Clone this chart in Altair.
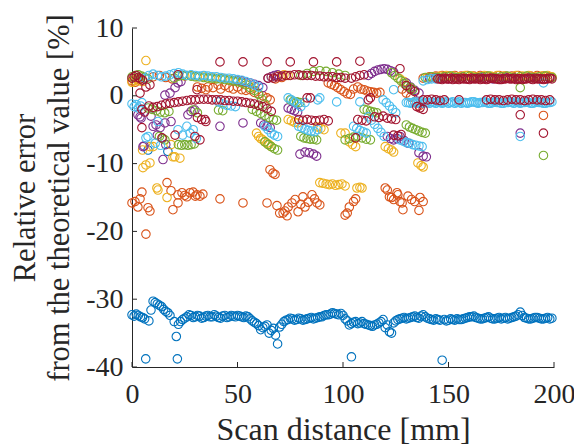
import altair as alt
import pandas as pd

x_ticks = [0, 50, 100, 150, 200]
y_ticks = [-40, -30, -20, -10, 0, 10]

series_names = ["S1", "S2", "S3", "S4", "S5", "S6", "S7"]
series_colors = ["#0072BD", "#D95319", "#EDB120", "#7E2F8E", "#77AC30", "#4DBEEE", "#A2142F"]

blue_pts = [
    (0, -32.3), (1, -32.5), (2, -32.2), (3, -32.4), (4, -32.6), (5, -32.7), (6, -32.9), (8, -33.2), (9, -31.6),
    (10, -30.3), (11, -30.5), (12, -30.7), (13, -30.9), (14, -31.1), (15, -31.5), (16, -31.8), (17, -32.0),
    (18, -32.4), (20, -33.3), (21, -35.5), (22, -33.7), (23, -33.3), (24, -33.0), (25, -32.8), (26, -32.6),
    (27, -32.3), (28, -32.4), (29, -32.7), (30, -32.6), (31, -32.4), (32, -32.5), (33, -32.8), (34, -32.7),
    (35, -32.5), (36, -32.4), (37, -32.6), (38, -32.6), (39, -32.3), (40, -32.5), (41, -32.7), (42, -32.8),
    (43, -32.5), (44, -32.4), (45, -32.7), (46, -32.6), (47, -32.4), (48, -32.5), (49, -32.6), (50, -32.4),
    (51, -32.5), (52, -32.6), (53, -32.7), (54, -32.5), (55, -32.6), (56, -32.9), (57, -33.2), (58, -33.4),
    (59, -33.6), (60, -33.9), (61, -34.5), (62, -34.2), (63, -34.0), (64, -33.8), (65, -35.0), (66, -34.6),
    (67, -34.3), (68, -35.3), (69, -36.6), (70, -34.1), (71, -33.7), (72, -33.3), (73, -33.1), (74, -33.0),
    (75, -32.8), (76, -32.9), (77, -33.1), (78, -33.0), (79, -32.8), (80, -32.9), (81, -33.1), (82, -33.0),
    (83, -32.9), (84, -32.8), (85, -32.7), (86, -32.9), (87, -32.8), (88, -32.7), (89, -32.6), (90, -32.6),
    (91, -32.4), (92, -32.3), (93, -32.3), (94, -32.2), (95, -32.0), (96, -32.1), (97, -32.2), (98, -32.3),
    (99, -32.1), (100, -32.4), (101, -32.9), (102, -33.2), (103, -33.8), (104, -33.6), (105, -33.4),
    (106, -33.3), (107, -33.6), (108, -33.5), (109, -33.3), (110, -33.6), (111, -33.7), (112, -33.8),
    (113, -33.9), (114, -34.0), (115, -33.8), (116, -33.7), (117, -33.5), (118, -33.3), (119, -33.0),
    (120, -34.2), (121, -33.8), (122, -34.8), (123, -35.0), (124, -33.5), (125, -33.2), (126, -33.0),
    (127, -32.9), (128, -32.8), (129, -32.7), (130, -32.9), (131, -32.8), (132, -32.7), (133, -32.6),
    (134, -32.5), (135, -32.7), (136, -32.8), (137, -32.5), (138, -32.3), (139, -32.6), (140, -32.8),
    (141, -32.9), (142, -33.0), (143, -33.1), (144, -32.9), (145, -33.0), (146, -33.1), (148, -33.0),
    (149, -33.2), (150, -33.1), (151, -32.9), (152, -33.0), (153, -33.1), (154, -32.9), (155, -33.0),
    (156, -33.0), (157, -32.9), (158, -32.8), (159, -32.7), (160, -32.6), (161, -32.6), (162, -32.5),
    (163, -32.7), (164, -32.8), (165, -32.9), (166, -32.9), (167, -32.8), (168, -32.7), (169, -32.6),
    (170, -32.8), (171, -32.9), (172, -32.9), (173, -32.8), (174, -32.7), (175, -32.9), (176, -32.8),
    (177, -32.7), (178, -32.9), (179, -32.8), (180, -32.7), (181, -32.6), (182, -32.5), (183, -32.3),
    (184, -31.9), (185, -32.4), (186, -32.7), (187, -32.8), (188, -32.9), (189, -32.9), (190, -32.8),
    (191, -32.7), (192, -32.7), (193, -32.8), (194, -32.9), (195, -32.9), (196, -32.8), (197, -32.7),
    (198, -32.9), (199, -32.8),
    (6.5, -38.8), (21.5, -38.8), (104, -38.5), (147, -39.0), (7.6, -8.0), (17, -8.2),
]

orange_pts = [
    (0, -15.8), (1.4, -15.6), (2.8, -16.4), (3.8, -15.2), (4.7, -14.2), (6.6, -20.4), (7.6, -16.5), (8.5, -17.0),
    (16.6, -12.8), (18.5, -14.0), (19.4, -16.8), (21.8, -15.8), (21.8, -14.6), (23.7, -14.3), (25, -14.7),
    (26, -14.9), (27.5, -14.3), (29, -14.2), (30, -14.8), (30.8, -14.6), (32.2, -14.8), (33.6, -14.5),
    (41.7, -15.2), (52.6, -15.8), (64, -15.8), (65.4, -10.9), (66.8, -11.4), (67.8, -11.6), (68.7, -16.2),
    (70, -17.3), (71.6, -17.3), (72.5, -17.0), (73.5, -17.7), (74, -16.4), (75.8, -15.8), (77.3, -15.3),
    (78.7, -17.1), (80, -16.0), (81, -14.9), (82, -16.4), (83.5, -15.7), (85.3, -14.6), (86.5, -15.2),
    (87.7, -15.8), (89, -16.1), (101, -17.6), (102, -17.3), (103, -16.4), (105, -15.6), (106, -15.2),
    (120, -13.6), (121, -13.9), (122, -14.9), (123, -15.0), (124, -15.3), (125.6, -14.3), (126, -14.6),
    (127, -15.6), (128, -15.8), (128.4, -16.8), (130.8, -14.8), (132.5, -15.3), (134, -15.6), (136.5, -15.0),
    (138, -15.6), (136, -16.9),
    (0, 2.2), (1.5, 2.0), (3, 2.4), (10, 2.8), (13, 3.0), (16, 2.7), (19, 2.5),
    (31, 1.3), (33, 1.1), (35, 0.9), (36, 1.3), (38.4, 1.2), (40.8, 1.6), (42, 1.0), (44, 1.5), (46, 1.2),
    (48, 1.0), (50, 1.3), (52, 0.9), (54, 0.8), (56, 0.9), (58, 0.5), (60, 0.3), (62, 0.0), (64, -0.3),
    (65.5, -0.6), (68, 2.5), (71, 2.7),
    (93, 1.9), (94.5, 1.7), (96, 1.5), (97.5, 1.2), (99, 0.9), (100.5, 0.6), (102, 0.3), (103.5, 0.2),
    (105, 1.0), (107, 1.3), (108.5, 1.0), (110, 0.9), (111.5, 0.7), (113, 0.6), (114.5, 0.5), (116, 0.4),
    (117.5, 0.5), (128, 1.0), (130, 0.4), (132, -0.2), (134, -0.9), (136, -1.5),
    (138, 2.6), (141, 2.8), (144, 2.9), (147, 3.0), (150, 2.9), (153, 3.0), (156, 2.9), (159, 3.0),
    (162, 2.9), (165, 3.0), (168, 2.9), (171, 2.8), (174, 3.0), (177, 2.9), (180, 2.9), (183, 3.0),
    (186, 2.8), (189, 2.9), (192, 3.0), (195, 2.9), (198, 2.8), (195, -2.9),
]

yellow_pts = [
    (0, 2.0), (1, 2.3), (2, 2.6), (3, 2.2), (4, 2.5), (5, 2.1), (6.6, 5.2),
    (5, -8.0), (5.2, -10.6), (6.6, -10.2), (8.5, -9.9), (8.5, -7.5), (10, -7.5), (11.8, -13.6), (12.3, -13.9),
    (16.6, -15.0), (18.5, -7.2), (19.4, -9.0), (20.3, -9.0), (22.7, -9.2),
    (25, 2.9), (28, 3.0), (31, 2.8), (34, 2.9), (37, 2.7), (40, 2.6), (43, 2.6), (46, 2.4), (49, 2.3),
    (52, 2.0), (55, 1.7), (58, 1.3),
    (59, -5.5), (60, -6.0), (61, -6.3), (62, -6.5), (63, -6.8), (64, -7.0), (65, -7.2), (66, -7.5),
    (66, 2.8), (69, 3.0), (72, 3.1), (74, 3.0),
    (74, -3.5), (75.5, -3.7), (77, -3.9), (78.5, -4.0), (88, -4.6), (89.5, -4.8), (91, -5.0), (99, -5.5),
    (101, -5.5),
    (89, -12.8), (90.5, -12.9), (92, -13.0), (93.5, -13.1), (95, -13.0), (96.5, -13.2), (98, -13.1),
    (99.5, -13.0), (101, -13.3), (106.6, -13.6), (108, -13.5), (109, -13.6),
    (103, -6.8), (104.5, -7.2), (106, -7.5), (120, -7.5), (121.5, -7.8), (123, -8.0), (124, -8.3),
    (135.5, -9.9), (137, -10.3), (138, -10.5), (127, 2.5), (129, 2.1),
    (140, 2.7), (143, 2.8), (146, 2.9), (149, 3.0), (152, 2.9), (155, 2.8), (158, 3.0), (161, 2.9),
    (164, 2.8), (167, 3.0), (170, 2.9), (173, 3.0), (176, 2.9), (179, 2.8), (182, 3.0), (185, 2.9),
    (188, 3.0), (191, 2.8), (194, 2.9), (197, 3.0), (199, 2.8),
]

purple_pts = [
    (2.8, -2.8), (3.8, -3.1), (4.3, -3.3), (5.2, -7.5), (5.7, -7.4), (9, -3.0), (10, -4.5), (11.4, -4.3),
    (12, -5.8), (13.3, -4.7), (14.7, -9.4), (15.6, -4.0), (16, -7.2), (18.5, -3.8), (15.6, 0.1), (18, 0.4),
    (20.4, 1.2), (21.8, 1.9), (23.2, 2.1), (26.5, -2.8), (28, -2.3), (29.8, -2.1),
    (50, 2.3), (52, 2.2), (54, 2.0), (56, 1.9), (58, 1.7), (60, 1.5), (62, 1.2),
    (41.7, -4.5), (52.6, -4.0), (61, -4.0), (62.5, -4.3), (64, -4.5), (65.5, -4.7),
    (64.5, 2.6), (66, 2.8), (67.5, 3.0), (69, 3.1),
    (74, -1.8), (75.5, -2.0), (77, -2.2), (78.5, -2.4),
    (79.6, -8.6), (82, -8.3), (84, -8.4), (86, -8.6), (87.5, -8.9),
    (112, 3.0), (113.5, 3.3), (115, 3.6), (116.5, 3.8), (118, 3.9), (119.5, 4.0), (121, 3.9), (122.5, 3.7),
    (124, 3.5),
    (121, -6.0), (122.5, -6.3), (124, -6.5), (125.5, -6.3), (127, -6.0), (129, -6.6), (131, -7.0),
    (136, -8.4), (138, -8.9), (139.5, -9.0),
    (130, 1.9), (132, 1.3), (134, 0.8), (136, 0.4),
    (141, 2.6), (144, 2.7), (147, 2.6), (150, 2.5), (153, 2.7), (156, 2.6), (159, 2.5), (162, 2.6),
    (165, 2.7), (168, 2.6), (171, 2.5), (174, 2.6), (177, 2.7), (180, 2.6), (183, 2.5), (186, 2.6),
    (189, 2.7), (192, 2.6), (195, 2.5), (198, 2.6), (184, -5.5),
]

green_pts = [
    (0, 2.8), (1.5, 3.0), (3, 3.1), (4.5, 2.9), (6, 2.7), (7.5, 2.5),
    (7.6, -1.8), (9.5, -2.0), (11.5, -2.2), (13.5, -2.4), (15.5, -2.5), (17.5, -2.3),
    (13, -6.0), (14.5, -6.3), (15.6, -6.5), (22, -7.2), (23.5, -7.3), (25, -7.2), (26.5, -7.3), (28, -7.2),
    (29.5, -7.1), (29, -2.1), (31, -2.5), (41, -2.1), (43, -2.2),
    (20, 2.6), (22, 2.9), (24, 3.0), (26, 3.0), (28, 2.9), (30, 2.8), (32, 2.8), (34, 2.7), (36, 2.6),
    (38, 2.6), (40, 2.5), (42, 2.5), (44, 2.4), (46, 2.3), (48, 2.2), (50, 2.1), (52, 1.9), (54, 1.6),
    (56, 1.2), (58, 0.8), (60, 0.2), (61.5, -0.5), (63, -1.2),
    (57, -2.0), (59, -2.3), (61, -2.6), (63, -2.9), (65, -3.2), (67, -3.5), (68.5, -3.6),
    (63, -6.8), (64.5, -7.2), (66, -7.5), (67.5, -7.8), (69, -8.0),
    (75, -0.6), (76.5, -0.8), (78, -0.9), (79.5, -1.0),
    (80, -6.0), (81.5, -6.2), (83, -6.3), (84.5, -6.4), (86, -6.4), (87.5, -6.5),
    (80, 3.0), (83, 3.3), (86, 3.6), (89, 3.7), (92, 3.6), (95, 3.4), (98, 3.2), (101, 3.0),
    (101, -6.5), (103, -6.3), (105, -6.1), (107, -6.0), (109, -6.2), (111, -6.4), (113, -6.5),
    (110, -2.0), (111.5, -2.1), (113, -2.3), (114.5, -2.4), (116, -2.5),
    (123, 3.4), (124.5, 3.0), (126, 2.6), (127.5, 2.2), (129, 1.8), (130.5, 1.4), (132, 1.2), (133, 0.9),
    (130, -4.3), (131.5, -4.6), (133, -4.8), (134.5, -5.0), (136, -5.2), (137.5, -5.4), (139, -5.5),
    (139, 2.7), (142, 2.8), (145, 2.7), (148, 2.8), (151, 2.9), (154, 2.7), (157, 2.8), (160, 2.9),
    (163, 2.7), (166, 2.8), (169, 2.9), (172, 2.7), (175, 2.8), (178, 2.9), (181, 2.7), (184, 2.8),
    (187, 2.9), (190, 2.7), (193, 2.8), (196, 2.9), (199, 2.7), (184, 1.2), (195, -8.8),
]

lightblue_pts = [
    (0, -1.2), (1, -1.6), (2, -1.3), (3, -1.8), (4, -1.5), (4.7, -1.0),
    (6, 2.6), (8, 3.0), (10, 3.2), (12, 3.0), (14, 2.8), (16, 2.9), (18, 3.1), (20, 3.3), (22, 3.4),
    (24, 3.2), (26, 3.0), (28, 3.1), (30, 3.0), (32, 2.9), (34, 3.0), (36, 2.9), (38, 2.8), (40, 2.8),
    (42, 2.7), (44, 2.6), (46, 2.6), (48, 2.5), (50, 2.4), (52, 2.3), (54, 2.1), (56, 1.9), (58, 1.6),
    (60, 1.3),
    (6.6, -6.2), (7.6, -6.0), (11, -7.0), (13.5, -7.3), (12.3, -3.8), (21.8, -5.0), (24, -5.8), (26, -4.5),
    (27.5, -5.5), (29, -5.0), (30.5, -6.3),
    (41, -0.9), (43, -1.2), (45, -1.4), (47, -1.5), (49, -1.6),
    (63, -4.5), (64.5, -5.0), (66, -5.5), (67.5, -5.8), (69, -6.0),
    (74, -0.3), (75.5, -0.6), (77, -0.9), (78.5, -1.2), (80, -1.6), (82, -1.0),
    (79, -4.5), (80.5, -4.7), (82, -4.9), (83.5, -5.1), (85, -5.2), (86.5, -5.3), (88, -5.0),
    (88, -0.6), (89, -0.3), (97, -0.9), (108, -0.9),
    (105, -4.5), (106.5, -4.8), (108, -5.1), (109.5, -5.3), (111, -5.5),
    (112, -3.1), (113.5, -3.6), (115, -4.2), (116.5, -4.8), (118, -5.4), (119.5, -6.0),
    (119, -0.6), (120.5, -1.0), (122, -1.5), (123.5, -2.0), (125, -2.5), (124, 0.9),
    (127, -6.5), (128.5, -6.7), (130, -6.9), (131.5, -7.0), (133, -7.2), (134.5, -7.3), (136, -7.4),
    (137.5, -7.5),
    (138, 2.2), (140, 2.4), (142, 2.5), (144, 2.5),
    (130, -1.0), (131, -1.0), (132, -1.1), (133, -1.0), (134, -0.9), (135, -1.1), (136, -1.0), (137, -0.9),
    (138, -1.1), (139, -1.0), (140, -1.0), (141, -1.1), (142, -0.9), (143, -1.0), (144, -1.1), (145, -0.9),
    (146, -1.0), (147, -1.1), (148, -1.0), (149, -0.9), (150, -1.1), (151, -1.0), (152, -0.9), (153, -1.1),
    (154, -1.0), (155, -0.9), (156, -1.1), (157, -1.0), (158, -1.0), (159, -1.1), (160, -1.0), (161, -0.9),
    (162, -0.9), (163, -1.0), (164, -1.1), (165, -1.0), (166, -1.0), (167, -0.9), (168, -1.0), (169, -1.1),
    (170, -1.1), (171, -1.0), (172, -0.9), (173, -1.0), (174, -1.0), (175, -1.1), (176, -1.1), (177, -1.0),
    (178, -1.0), (179, -0.9), (180, -1.0), (181, -1.1), (182, -0.9), (183, -1.0), (184, -1.1), (185, -1.0),
    (186, -1.0), (187, -0.9), (188, -1.0), (189, -1.1), (190, -1.1), (191, -1.0), (192, -0.9), (193, -1.0),
    (194, -1.0), (195, -1.1), (196, -1.1), (197, -1.0), (198, -1.0), (199, -0.9),
    (184, -6.0), (195, 1.9),
]

darkred_pts = [
    (0, 2.6), (1, 2.8), (2, 3.0), (3, 2.7), (4, 2.5), (5, 2.3),
    (3.8, 0.4), (4.7, -2.0), (4.7, -4.7), (6, -2.4), (6.6, 1.3), (8.5, 1.6), (21.8, 3.1), (14.2, -6.2),
    (20.4, -5.8), (29.8, -6.0), (32.2, -6.5), (30.8, 0.9), (31, -3.2), (33, -3.5), (34.6, -3.5), (35, -3.8),
    (8, -1.5), (10, -1.7), (12, -1.6), (14, -1.4), (16, -1.2), (18, -1.1), (20, -1.0), (22, -0.9),
    (24, -0.8), (26, -0.7), (28, -0.6), (30, -0.6), (32, -0.5), (34, -0.5), (36, -0.5), (38, -0.6),
    (40, -0.6), (42, -0.6), (44, -0.7), (46, -0.7), (48, -0.8), (50, -0.8), (52, -0.9), (54, -1.0),
    (56, -1.1), (58, -1.2), (60, -1.4), (62, -1.6), (64, -1.9), (66, -2.3),
    (41.7, 5.0), (52.6, 5.0), (64, 5.0), (75, 5.0), (86, 5.0), (97, 5.0), (108, 5.1), (127, 4.0),
    (64.5, 2.6), (67, 2.6), (69, 2.8), (71, 2.9), (73, 3.0), (75, 3.0), (77, 3.1), (79, 3.1), (81, 3.0),
    (83, 3.0), (85, 3.0), (87, 2.9), (89, 2.9), (91, 2.8), (93, 2.8), (95, 2.8), (97, 2.7), (99, 2.7),
    (101, 2.6), (104, 2.6), (106, 2.8), (108, 3.0), (110, 3.1),
    (79, -3.5), (81, -3.6), (83, -3.5), (85, -3.6), (87, -3.7), (89, -3.6), (91, -3.5), (93, -3.7),
    (83, -0.3), (84.5, -0.3), (107, -3.5), (109, -3.6), (111, -3.7), (106, -6.2),
    (115, -3.1), (117, -3.2), (119, -3.0), (121, -3.3), (123, -3.4), (125, -3.5),
    (112, -0.6), (113, -0.3), (124, -5.8), (126, -5.9), (127.5, -5.7),
    (135, -1.6), (136.5, -1.8), (138, -2.0), (130, 1.5), (132, 1.0), (134, 0.6),
    (138, -0.6), (140, -0.6), (142, -0.5), (144, -0.6), (146, -0.7), (148, -0.6), (155, -0.6),
    (168, -0.6), (170, -0.5), (172, -0.6), (174, -0.6), (176, -0.7), (178, -0.6), (180, -0.5),
    (182, -0.6), (184, -0.6), (186, -0.7), (188, -0.6), (190, -0.5), (192, -0.6), (194, -0.6),
    (196, -0.7), (198, -0.6),
    (145, 2.5), (146, 2.5), (147, 2.4), (148, 2.6), (149, 2.5), (150, 2.5), (151, 2.6), (152, 2.4),
    (153, 2.5), (154, 2.5), (155, 2.4), (156, 2.6), (157, 2.5), (158, 2.5), (159, 2.5), (160, 2.4),
    (161, 2.6), (162, 2.5), (163, 2.5), (164, 2.6), (165, 2.4), (166, 2.5), (167, 2.5), (168, 2.4),
    (169, 2.5), (170, 2.6), (171, 2.6), (172, 2.5), (173, 2.5), (174, 2.4), (175, 2.4), (176, 2.5),
    (177, 2.5), (178, 2.6), (179, 2.5), (180, 2.5), (181, 2.6), (182, 2.4), (183, 2.5), (184, 2.5),
    (185, 2.4), (186, 2.5), (187, 2.5), (188, 2.6), (189, 2.5), (190, 2.4), (191, 2.6), (192, 2.5),
    (193, 2.5), (194, 2.5), (195, 2.4), (196, 2.5), (197, 2.5), (198, 2.6), (199, 2.5),
    (184, -2.8), (195, -5.5),
]

all_series = [blue_pts, orange_pts, yellow_pts, purple_pts, green_pts, lightblue_pts, darkred_pts]

rows = []
k = 0
for name, pts in zip(series_names, all_series):
    for (xv, yv) in pts:
        rows.append({"x": xv, "y": yv, "series": name, "k": k})
        k += 1
df = pd.DataFrame(rows)

FONT = "Liberation Serif, Times New Roman, serif"
INK = "#262626"
W, H = 422, 339

xscale = alt.Scale(domain=[0, 200], nice=False, zero=False)
yscale = alt.Scale(domain=[-40, 10], nice=False, zero=False)

x_axis = alt.Axis(
    values=x_ticks, ticks=False, tickSize=0, grid=False, title="Scan distance [mm]",
    labelFont=FONT, labelFontSize=28, labelColor=INK, labelPadding=13,
    titleFont=FONT, titleFontSize=32, titleFontWeight="normal", titleColor=INK, titlePadding=6,
    domainColor=INK, domainWidth=1, labelFlush=False)
y_axis = alt.Axis(
    values=y_ticks, ticks=False, tickSize=0, grid=False,
    title=["Relative error", "from the theoretical value [%]"],
    labelExpr="datum.value + ''",
    labelFont=FONT, labelFontSize=28, labelColor=INK, labelPadding=9,
    titleFont=FONT, titleFontSize=30.5, titleFontWeight="normal", titleColor=INK, titlePadding=11,
    titleLineHeight=34, domainColor=INK, domainWidth=1, labelFlush=False)

points = alt.Chart(df).mark_point(
    shape="circle", filled=False, size=72, strokeWidth=1.1, opacity=1
).encode(
    x=alt.X("x:Q", scale=xscale, axis=x_axis),
    y=alt.Y("y:Q", scale=yscale, axis=y_axis),
    color=alt.Color("series:N", scale=alt.Scale(domain=series_names, range=series_colors), legend=None),
    order=alt.Order("k:Q"),
)

xt = pd.DataFrame({"x": x_ticks})
yt = pd.DataFrame({"y": y_ticks})

xtick_marks = alt.Chart(xt).mark_rule(color=INK, strokeWidth=1).encode(
    x=alt.X("x:Q", scale=xscale, axis=x_axis), y=alt.value(H), y2=alt.value(H - 5))
ytick_marks = alt.Chart(yt).mark_rule(color=INK, strokeWidth=1).encode(
    y=alt.Y("y:Q", scale=yscale, axis=y_axis), x=alt.value(0), x2=alt.value(5))

chart = alt.layer(points, xtick_marks, ytick_marks).properties(
    width=W, height=H,
    autosize=alt.AutoSizeParams(type="none"),
    padding={"left": 124, "top": 20, "right": 20, "bottom": 80},
    background="white",
).configure_view(stroke=None)

chart.save("out.html", embed_options={"renderer": "svg", "actions": False})
